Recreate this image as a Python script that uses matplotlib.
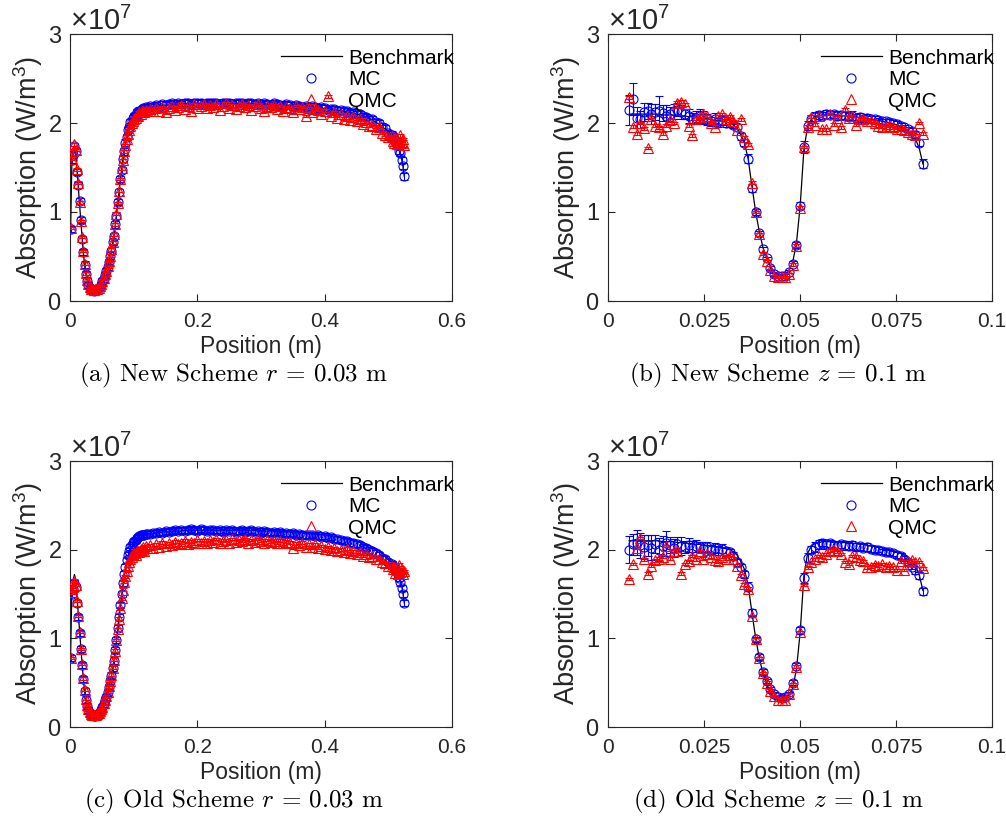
import numpy as np
import matplotlib
matplotlib.use('Agg')
import matplotlib.pyplot as plt
from matplotlib.lines import Line2D
from matplotlib.ticker import FixedLocator, FormatStrFormatter, ScalarFormatter

plt.rcParams['font.family'] = ['Liberation Sans', 'DejaVu Sans']
plt.rcParams['mathtext.fontset'] = 'custom'
plt.rcParams['mathtext.rm'] = 'Liberation Sans'
plt.rcParams['mathtext.it'] = 'Liberation Sans:italic'

SCALE = 1e7

# ---------------------------------------------------------------
# Dane: profil radialny r = 0.03 m (panele a, c)  [x1e7 W/m^3]
# ---------------------------------------------------------------
x_r = np.concatenate([np.arange(0.001, 0.1215, 0.002),
                      np.arange(0.125, 0.5055, 0.005),
                      np.arange(0.507, 0.5255, 0.002)])

bench_r = [
    0.82, 1.57, 1.66, 1.72, 1.66, 1.47, 1.29, 1.10, 0.90, 0.71,
    0.54, 0.40, 0.30, 0.23, 0.18, 0.15, 0.13, 0.12, 0.12, 0.12,
    0.12, 0.13, 0.14, 0.16, 0.18, 0.21, 0.25, 0.29, 0.33, 0.38,
    0.44, 0.50, 0.57, 0.65, 0.74, 0.85, 0.97, 1.10, 1.23, 1.36,
    1.48, 1.59, 1.69, 1.77, 1.85, 1.91, 1.96, 2.00, 2.03, 2.05,
    2.07, 2.09, 2.11, 2.12, 2.13, 2.14, 2.15, 2.16, 2.16, 2.17,
    2.17,
    2.18, 2.18, 2.19, 2.19, 2.20, 2.20, 2.20, 2.21, 2.21, 2.21,
    2.21, 2.22, 2.22, 2.22, 2.22, 2.22, 2.22, 2.22, 2.22, 2.22,
    2.22, 2.22, 2.22, 2.22, 2.22, 2.22, 2.22, 2.22, 2.22, 2.22,
    2.22, 2.22, 2.22, 2.22, 2.21, 2.21, 2.21, 2.21, 2.21, 2.21,
    2.20, 2.20, 2.20, 2.20, 2.20, 2.19, 2.19, 2.19, 2.19, 2.18,
    2.18, 2.18, 2.17, 2.17, 2.17, 2.16, 2.16, 2.15, 2.15, 2.14,
    2.14, 2.13, 2.12, 2.12, 2.11, 2.10, 2.09, 2.08, 2.06, 2.05,
    2.03, 2.01, 1.99, 1.96, 1.93, 1.90, 1.86,
    1.84, 1.82, 1.79, 1.77, 1.74, 1.70, 1.65, 1.59, 1.51, 1.40]

mc_new_r = [
    0.81, 1.58, 1.64, 1.74, 1.68, 1.45, 1.30, 1.12, 0.91, 0.70,
    0.55, 0.41, 0.30, 0.22, 0.18, 0.15, 0.13, 0.12, 0.11, 0.12,
    0.12, 0.13, 0.15, 0.16, 0.18, 0.22, 0.25, 0.29, 0.34, 0.38,
    0.44, 0.51, 0.56, 0.66, 0.73, 0.86, 0.96, 1.11, 1.22, 1.37,
    1.47, 1.60, 1.68, 1.78, 1.84, 1.92, 1.95, 2.01, 2.02, 2.06,
    2.08, 2.08, 2.12, 2.11, 2.14, 2.15, 2.14, 2.17, 2.16, 2.18,
    2.17,
    2.19, 2.18, 2.20, 2.18, 2.21, 2.20, 2.21, 2.22, 2.20, 2.22,
    2.21, 2.23, 2.22, 2.21, 2.23, 2.22, 2.23, 2.21, 2.23, 2.22,
    2.23, 2.22, 2.21, 2.23, 2.22, 2.23, 2.21, 2.22, 2.23, 2.22,
    2.21, 2.23, 2.22, 2.21, 2.22, 2.20, 2.22, 2.21, 2.20, 2.22,
    2.21, 2.20, 2.19, 2.21, 2.20, 2.18, 2.20, 2.19, 2.18, 2.19,
    2.17, 2.19, 2.18, 2.16, 2.18, 2.17, 2.15, 2.16, 2.16, 2.14,
    2.15, 2.13, 2.13, 2.11, 2.12, 2.10, 2.10, 2.08, 2.07, 2.04,
    2.04, 2.01, 2.00, 1.96, 1.94, 1.89, 1.87,
    1.85, 1.81, 1.80, 1.76, 1.75, 1.69, 1.66, 1.58, 1.52, 1.40]

qmc_new_r = [
    0.82, 1.60, 1.68, 1.76, 1.70, 1.48, 1.33, 1.11, 0.90, 0.72,
    0.56, 0.42, 0.31, 0.24, 0.19, 0.16, 0.14, 0.13, 0.12, 0.13,
    0.13, 0.14, 0.15, 0.17, 0.19, 0.22, 0.26, 0.30, 0.34, 0.39,
    0.45, 0.51, 0.58, 0.66, 0.75, 0.86, 0.98, 1.10, 1.24, 1.37,
    1.49, 1.58, 1.68, 1.75, 1.82, 1.88, 1.92, 1.97, 2.00, 2.02,
    2.05, 2.06, 2.09, 2.08, 2.12, 2.10, 2.13, 2.14, 2.12, 2.15,
    2.14,
    2.16, 2.13, 2.17, 2.14, 2.18, 2.12, 2.17, 2.19, 2.15, 2.18,
    2.20, 2.16, 2.19, 2.14, 2.21, 2.17, 2.19, 2.21, 2.17, 2.20,
    2.18, 2.21, 2.15, 2.19, 2.22, 2.17, 2.20, 2.16, 2.19, 2.21,
    2.18, 2.20, 2.15, 2.19, 2.21, 2.17, 2.14, 2.19, 2.18, 2.20,
    2.16, 2.19, 2.13, 2.18, 2.17, 2.12, 2.19, 2.16, 2.18, 2.08,
    2.17, 2.12, 2.16, 2.15, 2.10, 2.14, 2.30, 2.08, 2.12, 2.06,
    2.10, 2.05, 2.08, 2.03, 2.07, 2.02, 2.04, 1.99, 2.01, 1.97,
    1.98, 1.93, 1.95, 1.89, 1.87, 1.84, 1.85,
    1.80, 1.78, 1.83, 1.76, 1.80, 1.77, 1.86, 1.78, 1.82, 1.75]

mc_old_r = [
    0.78, 1.50, 1.56, 1.62, 1.58, 1.40, 1.24, 1.06, 0.88, 0.70,
    0.54, 0.41, 0.31, 0.24, 0.19, 0.16, 0.14, 0.13, 0.12, 0.12,
    0.13, 0.14, 0.15, 0.17, 0.19, 0.22, 0.26, 0.30, 0.34, 0.39,
    0.45, 0.52, 0.58, 0.67, 0.75, 0.87, 0.98, 1.12, 1.24, 1.38,
    1.50, 1.62, 1.72, 1.80, 1.88, 1.94, 1.98, 2.03, 2.05, 2.08,
    2.10, 2.11, 2.13, 2.14, 2.15, 2.16, 2.16, 2.17, 2.17, 2.18,
    2.18,
    2.18, 2.19, 2.19, 2.20, 2.19, 2.21, 2.20, 2.21, 2.22, 2.21,
    2.22, 2.21, 2.22, 2.23, 2.22, 2.21, 2.23, 2.22, 2.21, 2.22,
    2.22, 2.21, 2.22, 2.20, 2.22, 2.21, 2.22, 2.20, 2.21, 2.22,
    2.20, 2.21, 2.22, 2.20, 2.21, 2.19, 2.21, 2.20, 2.19, 2.20,
    2.19, 2.20, 2.18, 2.19, 2.18, 2.19, 2.17, 2.18, 2.16, 2.17,
    2.16, 2.17, 2.15, 2.16, 2.14, 2.15, 2.13, 2.14, 2.12, 2.12,
    2.11, 2.10, 2.10, 2.08, 2.07, 2.06, 2.05, 2.03, 2.02, 2.00,
    1.98, 1.96, 1.94, 1.91, 1.89, 1.86, 1.84,
    1.82, 1.80, 1.77, 1.75, 1.72, 1.68, 1.63, 1.57, 1.50, 1.40]

qmc_old_r = [
    0.78, 1.52, 1.58, 1.65, 1.60, 1.42, 1.25, 1.07, 0.88, 0.71,
    0.55, 0.42, 0.32, 0.25, 0.20, 0.17, 0.15, 0.14, 0.13, 0.13,
    0.14, 0.15, 0.16, 0.18, 0.20, 0.23, 0.27, 0.31, 0.35, 0.40,
    0.46, 0.52, 0.59, 0.67, 0.76, 0.86, 0.98, 1.10, 1.22, 1.34,
    1.45, 1.55, 1.64, 1.70, 1.76, 1.82, 1.86, 1.90, 1.92, 1.95,
    1.96, 1.94, 1.98, 1.99, 1.97, 2.01, 2.00, 2.03, 1.99, 2.04,
    2.02,
    2.05, 2.02, 2.06, 2.03, 2.08, 2.04, 2.07, 2.05, 2.09, 2.06,
    2.08, 2.10, 2.06, 2.09, 2.07, 2.11, 2.08, 2.10, 2.07, 2.11,
    2.09, 2.12, 2.08, 2.10, 2.11, 2.08, 2.12, 2.09, 2.11, 2.10,
    2.12, 2.08, 2.11, 2.09, 2.12, 2.10, 2.08, 2.11, 2.09, 2.10,
    2.08, 2.10, 2.07, 2.09, 2.08, 2.02, 2.07, 2.05, 2.08, 2.03,
    2.06, 2.03, 2.06, 2.02, 2.04, 2.01, 2.03, 2.00, 2.02, 1.99,
    2.00, 1.97, 2.01, 1.96, 1.98, 1.95, 1.97, 1.93, 1.95, 1.92,
    1.93, 1.89, 1.90, 1.86, 1.85, 1.82, 1.82,
    1.78, 1.80, 1.74, 1.77, 1.72, 1.83, 1.75, 1.78, 1.72, 1.76]

mc_err_r = 0.035
qmc_err_r = 0.015

# ---------------------------------------------------------------
# Dane: profil osiowy z = 0.1 m (panele b, d)  [x1e7 W/m^3]
# ---------------------------------------------------------------
x_z = np.linspace(0.0055, 0.082, 80)

bench_z = [
    2.10, 2.10, 2.10, 2.10, 2.10, 2.10, 2.10, 2.10, 2.10, 2.09,
    2.09, 2.09, 2.09, 2.08, 2.08, 2.08, 2.07, 2.07, 2.06, 2.06,
    2.05, 2.05, 2.04, 2.03, 2.03, 2.02, 2.01, 2.00, 1.98, 1.94,
    1.87, 1.78,
    1.60, 1.30, 1.01, 0.78, 0.60, 0.48, 0.39, 0.33, 0.30, 0.29,
    0.30, 0.34, 0.44, 0.65, 1.07, 1.70, 1.96, 2.04,
    2.07, 2.08, 2.09, 2.09, 2.09, 2.09, 2.09, 2.08, 2.08, 2.08,
    2.07, 2.07, 2.06, 2.06, 2.05, 2.04, 2.04, 2.03, 2.02, 2.01,
    2.00, 1.99, 1.98, 1.96, 1.94, 1.91, 1.87, 1.82, 1.72, 1.54]

mc_new_z = [
    2.15, 2.27, 2.06, 2.04, 2.12, 2.13, 2.10, 2.12, 2.13, 2.11,
    2.08, 2.10, 2.13, 2.15, 2.12, 2.10, 2.08, 2.05, 2.06, 2.08,
    2.06, 2.04, 2.02, 2.05, 2.01, 2.03, 2.00, 2.01, 1.98, 1.95,
    1.85, 1.78,
    1.60, 1.27, 1.00, 0.76, 0.58, 0.48, 0.37, 0.30, 0.28, 0.28,
    0.28, 0.33, 0.42, 0.63, 1.07, 1.73, 1.97, 2.05,
    2.07, 2.09, 2.08, 2.10, 2.09, 2.10, 2.08, 2.09, 2.08, 2.07,
    2.08, 2.06, 2.07, 2.05, 2.06, 2.04, 2.04, 2.03, 2.02, 2.02,
    2.01, 2.00, 1.99, 1.97, 1.95, 1.93, 1.91, 1.87, 1.78, 1.54]

mc_new_z_err = [
    0.17, 0.18, 0.12, 0.10, 0.10, 0.09, 0.11, 0.09, 0.17, 0.09,
    0.12, 0.08, 0.08, 0.07, 0.08, 0.06, 0.08, 0.06, 0.07, 0.08,
    0.07, 0.06, 0.05, 0.06, 0.05, 0.05, 0.05, 0.05, 0.04, 0.04,
    0.04, 0.04,
    0.05, 0.04, 0.03, 0.03, 0.03, 0.02, 0.02, 0.02, 0.02, 0.02,
    0.02, 0.02, 0.03, 0.03, 0.04, 0.07, 0.05, 0.04,
    0.05, 0.05, 0.04, 0.05, 0.04, 0.04, 0.05, 0.04, 0.04, 0.04,
    0.05, 0.04, 0.04, 0.04, 0.04, 0.04, 0.04, 0.03, 0.03, 0.03,
    0.03, 0.03, 0.03, 0.03, 0.03, 0.03, 0.03, 0.04, 0.04, 0.05]

qmc_new_z = [
    2.29, 1.96, 1.88, 2.00, 1.94, 1.72, 2.04, 1.97, 1.95, 1.88,
    1.97, 2.03, 2.00, 2.23, 2.24, 2.21, 1.97, 1.86, 2.05, 2.07,
    2.10, 2.08, 2.00, 1.96, 2.08, 2.10, 2.05, 2.07, 2.02, 1.92,
    2.04, 1.84,
    1.76, 1.33, 1.00, 0.75, 0.53, 0.45, 0.35, 0.28, 0.27, 0.27,
    0.27, 0.30, 0.41, 0.62, 1.05, 1.73, 1.96, 2.07,
    1.98, 2.08, 1.93, 1.93, 2.10, 1.98, 2.06, 1.95, 2.15, 2.06,
    2.08, 1.98, 2.05, 2.04, 2.02, 2.02, 2.00, 1.97, 1.96, 1.95,
    1.97, 1.95, 1.93, 1.93, 1.92, 1.90, 1.88, 1.86, 2.00, 1.88]

mc_old_z = [
    2.00, 2.06, 2.08, 2.05, 2.03, 2.05, 2.02, 2.06, 2.00, 2.04,
    2.07, 2.05, 2.02, 2.06, 2.04, 2.03, 2.05, 2.02, 2.04, 2.03,
    2.01, 2.03, 2.00, 2.02, 1.99, 2.01, 1.98, 1.97, 1.93, 1.86,
    1.80, 1.72,
    1.58, 1.29, 0.99, 0.79, 0.62, 0.52, 0.43, 0.37, 0.34, 0.33,
    0.34, 0.37, 0.50, 0.69, 1.09, 1.68, 1.91, 2.00,
    2.03, 2.06, 2.08, 2.06, 2.07, 2.05, 2.04, 2.06, 2.05, 2.04,
    2.05, 2.03, 2.04, 2.02, 2.03, 2.01, 2.00, 2.00, 1.98, 1.97,
    1.97, 1.96, 1.94, 1.93, 1.90, 1.86, 1.81, 1.77, 1.71, 1.53]

mc_old_z_err = [
    0.15, 0.12, 0.14, 0.14, 0.13, 0.12, 0.14, 0.10, 0.13, 0.11,
    0.14, 0.09, 0.10, 0.08, 0.10, 0.07, 0.08, 0.08, 0.07, 0.06,
    0.08, 0.06, 0.05, 0.06, 0.05, 0.05, 0.05, 0.04, 0.04, 0.04,
    0.04, 0.04,
    0.05, 0.04, 0.03, 0.03, 0.03, 0.02, 0.02, 0.02, 0.02, 0.02,
    0.02, 0.02, 0.03, 0.03, 0.04, 0.06, 0.05, 0.04,
    0.06, 0.05, 0.04, 0.05, 0.04, 0.04, 0.05, 0.04, 0.05, 0.04,
    0.05, 0.04, 0.04, 0.04, 0.04, 0.04, 0.04, 0.03, 0.03, 0.03,
    0.03, 0.03, 0.03, 0.03, 0.03, 0.03, 0.03, 0.04, 0.04, 0.04]

qmc_old_z = [
    1.67, 1.84, 2.02, 2.13, 1.89, 1.73, 1.82, 1.88, 1.90, 1.92,
    2.04, 1.90, 1.98, 1.99, 1.73, 1.84, 1.87, 1.93, 1.89, 1.98,
    1.90, 1.95, 1.92, 1.88, 1.87, 1.92, 1.90, 1.94, 1.90, 1.82,
    1.71, 1.61,
    1.56, 1.25, 0.99, 0.78, 0.61, 0.50, 0.41, 0.35, 0.31, 0.30,
    0.31, 0.37, 0.48, 0.68, 1.07, 1.60, 1.80, 1.86,
    1.89, 1.93, 1.92, 1.95, 1.99, 2.00, 1.98, 1.95, 1.86, 1.84,
    1.93, 1.92, 1.88, 1.87, 1.80, 1.81, 1.83, 1.82, 1.84, 1.80,
    1.82, 1.80, 1.77, 1.87, 1.77, 1.87, 1.88, 1.86, 1.86, 1.79]

qmc_err_z = 0.015

# ---------------------------------------------------------------
# Rysowanie
# ---------------------------------------------------------------
W, H = 1006, 840
fig = plt.figure(figsize=(W / 100, H / 100), dpi=100)
KOLOR_OSI = '#262626'


def px_axes(left, top, right, bottom):
    return fig.add_axes([left / W, 1 - bottom / H, (right - left) / W, (bottom - top) / H])


def panel(ax, x, bench, mc, mc_err, qmc, qmc_err, xmax, xticks):
    s = SCALE
    ax.plot(x, np.array(bench) * s, color='k', lw=0.9, zorder=2)
    ax.errorbar(x, np.array(mc) * s, yerr=np.array(mc_err) * s, fmt='o', ms=6.5,
                mfc='none', mec='#0000ff', mew=0.8, ecolor='#0000ff', elinewidth=0.8,
                capsize=3, capthick=0.8, zorder=3)
    ax.errorbar(x, np.array(qmc) * s, yerr=np.array(qmc_err) * s, fmt='^', ms=7,
                mfc='none', mec='#ff0000', mew=0.8, ecolor='#ff0000', elinewidth=0.8,
                capsize=3, capthick=0.8, zorder=4)
    ax.set_xlim(0, xmax)
    ax.set_ylim(0, 3 * s)
    ax.xaxis.set_major_locator(FixedLocator(xticks))
    ax.xaxis.set_major_formatter(FormatStrFormatter('%g'))
    ax.yaxis.set_major_locator(FixedLocator([0, s, 2 * s, 3 * s]))
    fmt = ScalarFormatter(useMathText=True)
    fmt.set_powerlimits((0, 0))
    ax.yaxis.set_major_formatter(fmt)
    ax.yaxis.get_offset_text().set_fontsize(21)
    ax.yaxis.get_offset_text().set_color(KOLOR_OSI)
    ax.tick_params(direction='in', length=5, width=0.8, top=True, right=True,
                   colors=KOLOR_OSI, labelcolor=KOLOR_OSI)
    ax.tick_params(axis='x', labelsize=15, pad=8)
    ax.tick_params(axis='y', labelsize=17, pad=6)
    for sp in ax.spines.values():
        sp.set_color(KOLOR_OSI)
        sp.set_linewidth(0.8)
    ax.set_xlabel('Position (m)', fontsize=16.5, color=KOLOR_OSI, labelpad=3)
    ax.set_ylabel(r'Absorption (W/m$^{3}$)', fontsize=19.5, color=KOLOR_OSI, labelpad=2)
    handles = [Line2D([], [], color='k', lw=0.9),
               Line2D([], [], ls='none', marker='o', ms=6.5, mfc='none', mec='#0000ff', mew=0.8),
               Line2D([], [], ls='none', marker='^', ms=7, mfc='none', mec='#ff0000', mew=0.8)]
    ax.legend(handles, ['Benchmark', 'MC', 'QMC'], loc='upper right',
              bbox_to_anchor=(1.005, 0.945), frameon=False, fontsize=15,
              handlelength=2.9, handletextpad=0.3, labelspacing=0.12,
              borderpad=0, borderaxespad=0)


ax_a = px_axes(70, 34, 452, 301)
ax_b = px_axes(608, 34, 992, 301)
ax_c = px_axes(70, 461, 452, 727)
ax_d = px_axes(608, 461, 992, 727)

ticks_r = [0, 0.2, 0.4, 0.6]
ticks_z = [0, 0.025, 0.05, 0.075, 0.1]

panel(ax_a, x_r, bench_r, mc_new_r, mc_err_r, qmc_new_r, qmc_err_r, 0.6, ticks_r)
panel(ax_b, x_z, bench_z, mc_new_z, mc_new_z_err, qmc_new_z, qmc_err_z, 0.1, ticks_z)
panel(ax_c, x_r, bench_r, mc_old_r, mc_err_r, qmc_old_r, qmc_err_r, 0.6, ticks_r)
panel(ax_d, x_z, bench_z, mc_old_z, mc_old_z_err, qmc_old_z, qmc_err_z, 0.1, ticks_z)

captions = [(234, 375, r'(a) New Scheme $r$ = 0.03 m'),
            (778, 375, r'(b) New Scheme $z$ = 0.1 m'),
            (234, 801, r'(c) Old Scheme $r$ = 0.03 m'),
            (778, 801, r'(d) Old Scheme $z$ = 0.1 m')]
for cx, cy, txt in captions:
    fig.text(cx / W, 1 - cy / H, txt, ha='center', va='center', fontsize=18,
             family='cmr10', math_fontfamily='cm')

fig.savefig('out.png', dpi=100)
